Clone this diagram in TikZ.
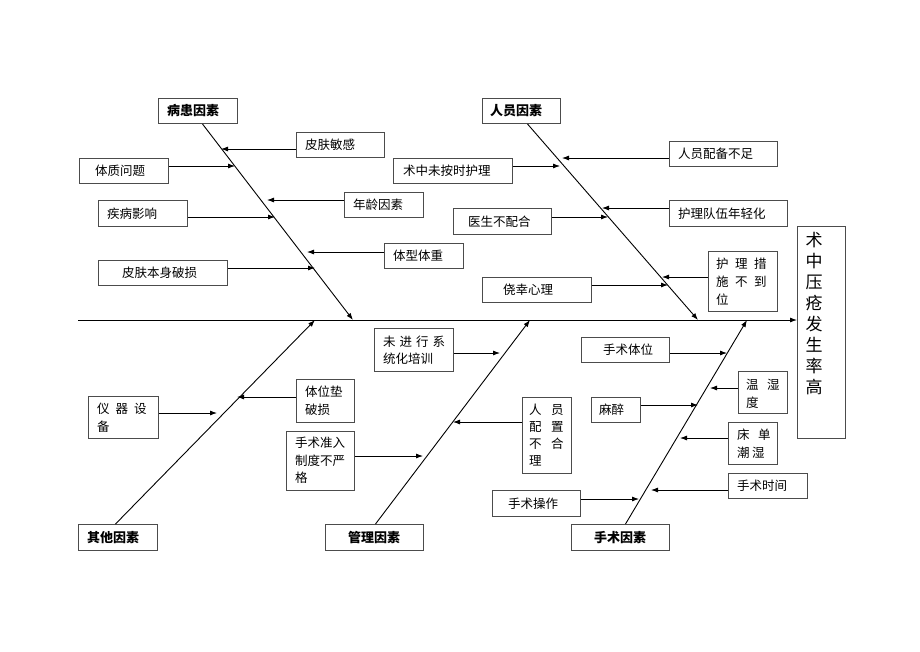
\documentclass[tikz,border=0pt]{standalone}
\usepackage{fontspec}
\setmainfont{Noto Sans CJK SC}
\usetikzlibrary{arrows.meta}
\tikzset{
  bx/.style={draw=black!70, line width=1pt, inner sep=0, anchor=north west},
  tx/.style={inner sep=0, font=\fontsize{12.5}{18}\selectfont, align=left},
  cat/.style={inner sep=0, font=\fontsize{13}{16}\selectfont\bfseries},
  arr/.style={line width=0.8pt, -{Latex[length=7pt,width=5pt]}},
  spine/.style={line width=0.9pt, -{Latex[length=7pt,width=5pt]}},
}
\newcommand\mkbox[5]{\node[bx, minimum width={(#4)-(#2)}, minimum height={(#5)-(#3)}] (#1) at (#2,#3) {};}
\newcommand\gp[1]{\hspace{#1pt}}
\begin{document}
\begin{tikzpicture}[x=1pt,y=-1pt]
\fill[white] (0,0) rectangle (920,651);
\useasboundingbox (0,0) rectangle (920,651);
% category boxes
\mkbox{c1}{158}{98}{237}{123}
\mkbox{c2}{482}{98}{560}{123}
\mkbox{c3}{78}{524}{157}{550}
\mkbox{c4}{325}{524}{423}{550}
\mkbox{c5}{571}{524}{669}{550}
\node[cat, anchor=west] (c1t) at ([xshift=9pt]c1.west) {病患因素};
\node[cat, anchor=west] (c2t) at ([xshift=8pt]c2.west) {人员因素};
\node[cat, anchor=west] (c3t) at ([xshift=9pt]c3.west) {其他因素};
\node[cat, anchor=west] (c4t) at ([xshift=23pt]c4.west) {管理因素};
\node[cat, anchor=west] (c5t) at ([xshift=23pt]c5.west) {手术因素};
% result box
\mkbox{res}{797}{226}{845}{438}
\node[inner sep=0, font=\fontsize{17}{21}\selectfont, align=center, anchor=north] (rest) at (814,232) {术\\中\\压\\疮\\发\\生\\率\\高};
% cause boxes
\mkbox{b1}{296}{132}{384}{157}
\mkbox{b2}{79}{158}{168}{183}
\mkbox{b3}{344}{192}{423}{217}
\mkbox{b4}{98}{200}{187}{226}
\mkbox{b5}{384}{243}{463}{268}
\mkbox{b6}{98}{260}{227}{285}
\mkbox{b7}{669}{141}{777}{166}
\mkbox{b8}{393}{158}{512}{183}
\mkbox{b9}{669}{200}{787}{226}
\mkbox{b10}{453}{208}{551}{234}
\mkbox{b11}{708}{251}{777}{311}
\mkbox{b12}{482}{277}{591}{302}
\mkbox{b13}{296}{379}{354}{422}
\mkbox{b14}{88}{396}{158}{438}
\mkbox{b15}{374}{328}{453}{371}
\mkbox{b16}{522}{397}{571}{473}
\mkbox{b17}{286}{431}{354}{490}
\mkbox{b18}{581}{337}{669}{362}
\mkbox{b19}{738}{371}{787}{413}
\mkbox{b20}{591}{397}{640}{422}
\mkbox{b21}{728}{422}{777}{464}
\mkbox{b22}{728}{473}{807}{498}
\mkbox{b23}{492}{490}{580}{516}
% single-line texts
\node[tx, anchor=west] (b1t) at ([xshift=9pt]b1.west) {皮肤敏感};
\node[tx, anchor=west] (b2t) at ([xshift=16pt]b2.west) {体质问题};
\node[tx, anchor=west] (b3t) at ([xshift=9pt]b3.west) {年龄因素};
\node[tx, anchor=west] (b4t) at ([xshift=9pt]b4.west) {疾病影响};
\node[tx, anchor=west] (b5t) at ([xshift=9pt]b5.west) {体型体重};
\node[tx, anchor=west] (b6t) at ([xshift=24pt]b6.west) {皮肤本身破损};
\node[tx, anchor=west] (b7t) at ([xshift=9pt]b7.west) {人员配备不足};
\node[tx, anchor=west] (b8t) at ([xshift=10pt]b8.west) {术中未按时护理};
\node[tx, anchor=west] (b9t) at ([xshift=9pt]b9.west) {护理队伍年轻化};
\node[tx, anchor=west] (b10t) at ([xshift=15pt]b10.west) {医生不配合};
\node[tx, anchor=west] (b12t) at ([xshift=21pt]b12.west) {侥幸心理};
\node[tx, anchor=west] (b18t) at ([xshift=22pt]b18.west) {手术体位};
\node[tx, anchor=west] (b20t) at ([xshift=8pt]b20.west) {麻醉};
\node[tx, anchor=west] (b22t) at ([xshift=9pt]b22.west) {手术时间};
\node[tx, anchor=west] (b23t) at ([xshift=16pt]b23.west) {手术操作};
% multi-line texts
\node[tx, anchor=north west] (b11t) at (716,258) {护\gp{6.5}理\gp{6.5}措\\施\gp{6.5}不\gp{6.5}到\\位};
\node[tx, anchor=north west] (b13t) at (305,386) {体位垫\\破损};
\node[tx, anchor=north west] (b14t) at (97,403) {仪\gp{6}器\gp{6}设\\备};
\node[tx, anchor=north west, font=\fontsize{12.5}{17}\selectfont] (b15t) at (383,336) {未\gp{4}进\gp{4}行\gp{4}系\\统化培训};
\node[tx, anchor=north west, font=\fontsize{12.5}{17}\selectfont] (b16t) at (529,404) {人\gp{9.5}员\\配\gp{9.5}置\\不\gp{9.5}合\\理};
\node[tx, anchor=north west, font=\fontsize{12.5}{17.5}\selectfont] (b17t) at (295,437) {手术准入\\制度不严\\格};
\node[tx, anchor=north west] (b19t) at (746,379) {温\gp{8.5}湿\\度};
\node[tx, anchor=north west] (b21t) at (737,429) {床\gp{8.5}单\\潮\gp{2.5}湿};
% main line
\coordinate (m0) at (78,320);
\draw[spine] (m0) -- (res.west |- m0);
% spine ends
\coordinate (e1) at (353,320);
\coordinate (e2) at (698,320);
\coordinate (e3) at (315,320);
\coordinate (e4) at (530,320);
\coordinate (e5) at (747,320);
\draw[spine] ([xshift=4.5pt]c1.south) -- (e1);
\draw[spine] ([xshift=6pt]c2.south) -- (e2);
\draw[spine] ([xshift=-2.5pt]c3.north) -- (e3);
\draw[spine] ([xshift=1pt]c4.north) -- (e4);
\draw[spine] ([xshift=5pt]c5.north) -- (e5);
% arrow tips on spines
\coordinate (t1) at (221,149);
\coordinate (t2) at (235,166);
\coordinate (t3) at (267,200);
\coordinate (t4) at (275,217);
\coordinate (t5) at (307,252);
\coordinate (t6) at (315,268);
\coordinate (t7) at (562,158);
\coordinate (t8) at (560,166);
\coordinate (t9) at (602,208);
\coordinate (t10) at (608,217);
\coordinate (t11) at (662,277);
\coordinate (t12) at (668,285);
\coordinate (t13) at (237,397);
\coordinate (t14) at (217,413);
\coordinate (t15) at (500,353);
\coordinate (t16) at (453,422);
\coordinate (t17) at (423,456);
\coordinate (t18) at (727,353);
\coordinate (t19) at (710,388);
\coordinate (t20) at (698,405);
\coordinate (t21) at (680,438);
\coordinate (t22) at (651,490);
\coordinate (t23) at (639,499);
% arrows from right-side boxes (pointing left)
\foreach \b/\t in {b1/t1,b3/t3,b5/t5,b7/t7,b9/t9,b11/t11,b13/t13,b16/t16,b19/t19,b21/t21,b22/t22}
  \draw[arr] (\b.west |- \t) -- (\t);
% arrows from left-side boxes (pointing right)
\foreach \b/\t in {b2/t2,b4/t4,b6/t6,b8/t8,b10/t10,b12/t12,b14/t14,b15/t15,b17/t17,b18/t18,b20/t20,b23/t23}
  \draw[arr] (\b.east |- \t) -- (\t);
\end{tikzpicture}
\end{document}
